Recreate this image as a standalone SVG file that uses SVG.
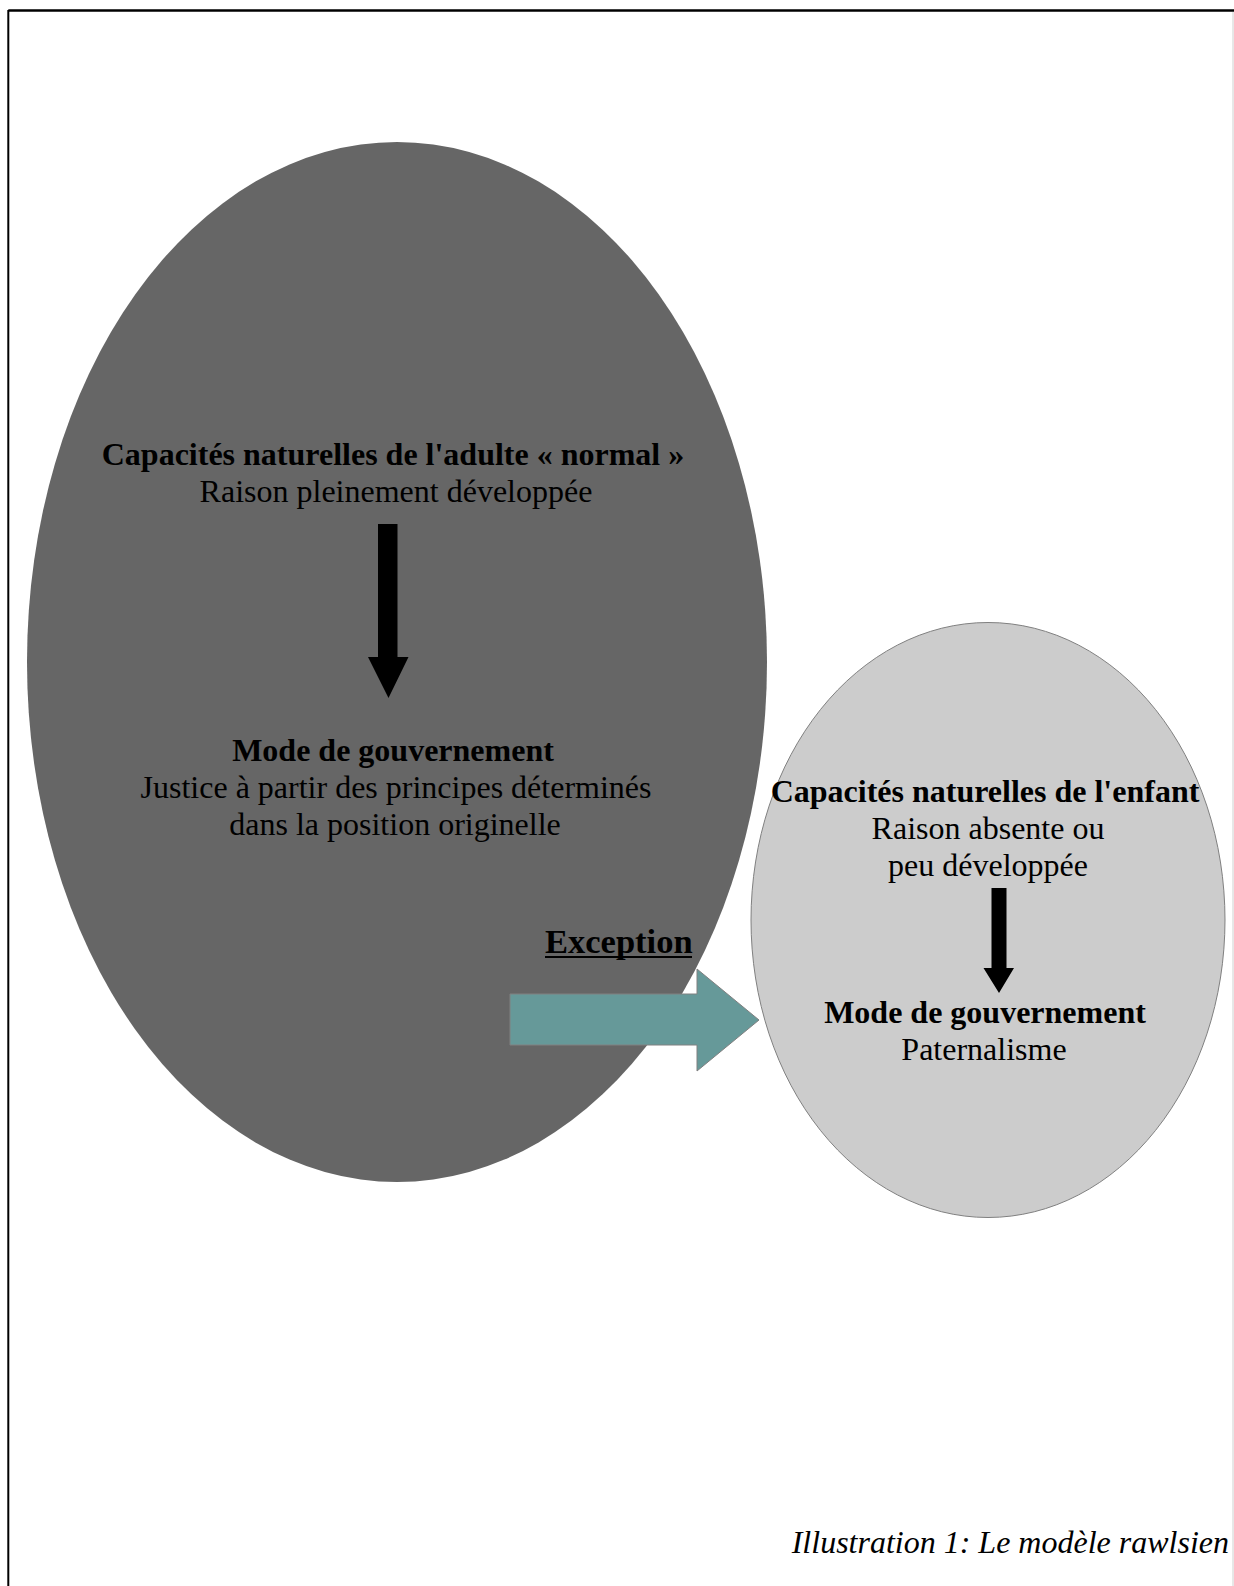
<svg xmlns="http://www.w3.org/2000/svg" width="1234" height="1586" viewBox="0 0 1234 1586">
  <style>
    text { font-family: "Liberation Serif", "Times New Roman", serif; font-size: 32px; fill: #000; }
    .b { font-weight: bold; }
    .c { text-anchor: middle; }
    .it { font-style: italic; }
  </style>
  <rect x="0" y="0" width="1234" height="1586" fill="#ffffff"/>
  <g id="frame">
    <line x1="8.3" y1="10.5" x2="1234" y2="10.5" stroke="#000" stroke-width="2.5"/>
    <line x1="8.3" y1="10" x2="8.3" y2="1586" stroke="#000" stroke-width="2"/>
    <line x1="1233" y1="12" x2="1233" y2="1586" stroke="#d0d0d0" stroke-width="1"/>
  </g>
  <g id="adulte">
    <ellipse cx="397" cy="662" rx="370" ry="520" fill="#666666"/>
    <text class="b c" x="393" y="465">Capacités naturelles de l'adulte « normal »</text>
    <text class="c" x="396" y="502">Raison pleinement développée</text>
    <text class="b c" x="393" y="761">Mode de gouvernement</text>
    <text class="c" x="396" y="798">Justice à partir des principes déterminés</text>
    <text class="c" x="395" y="835">dans la position originelle</text>
  </g>
  <g id="enfant">
    <ellipse cx="988" cy="920" rx="237" ry="297.5" fill="#cccccc" stroke="#808080" stroke-width="1"/>
    <text class="b c" x="985" y="802">Capacités naturelles de l'enfant</text>
    <text class="c" x="988" y="839">Raison absente ou</text>
    <text class="c" x="988" y="876">peu développée</text>
    <text class="b c" x="985" y="1023">Mode de gouvernement</text>
    <text class="c" x="984" y="1060">Paternalisme</text>
  </g>
  <g id="connectors">
    <polygon points="378,524 397.5,524 397.5,657 408.5,657 388.5,698 368,657 378,657" fill="#000"/>
    <polygon points="991.5,888 1006.5,888 1006.5,968 1014,968 999,993 983.5,968 991.5,968" fill="#000"/>
    <polygon points="510,994 697,994 697,969 759,1020 697,1071 697,1045 510,1045" fill="#669999" stroke="#808080" stroke-width="1"/>
    <g id="exception-label">
      <text class="b" x="545" y="952.5" style="font-size:34.5px">Exception</text>
      <line x1="545" y1="957" x2="692" y2="957" stroke="#000" stroke-width="2"/>
    </g>
  </g>
  <text class="it" x="1229" y="1553" text-anchor="end">Illustration 1: Le modèle rawlsien</text>
</svg>
